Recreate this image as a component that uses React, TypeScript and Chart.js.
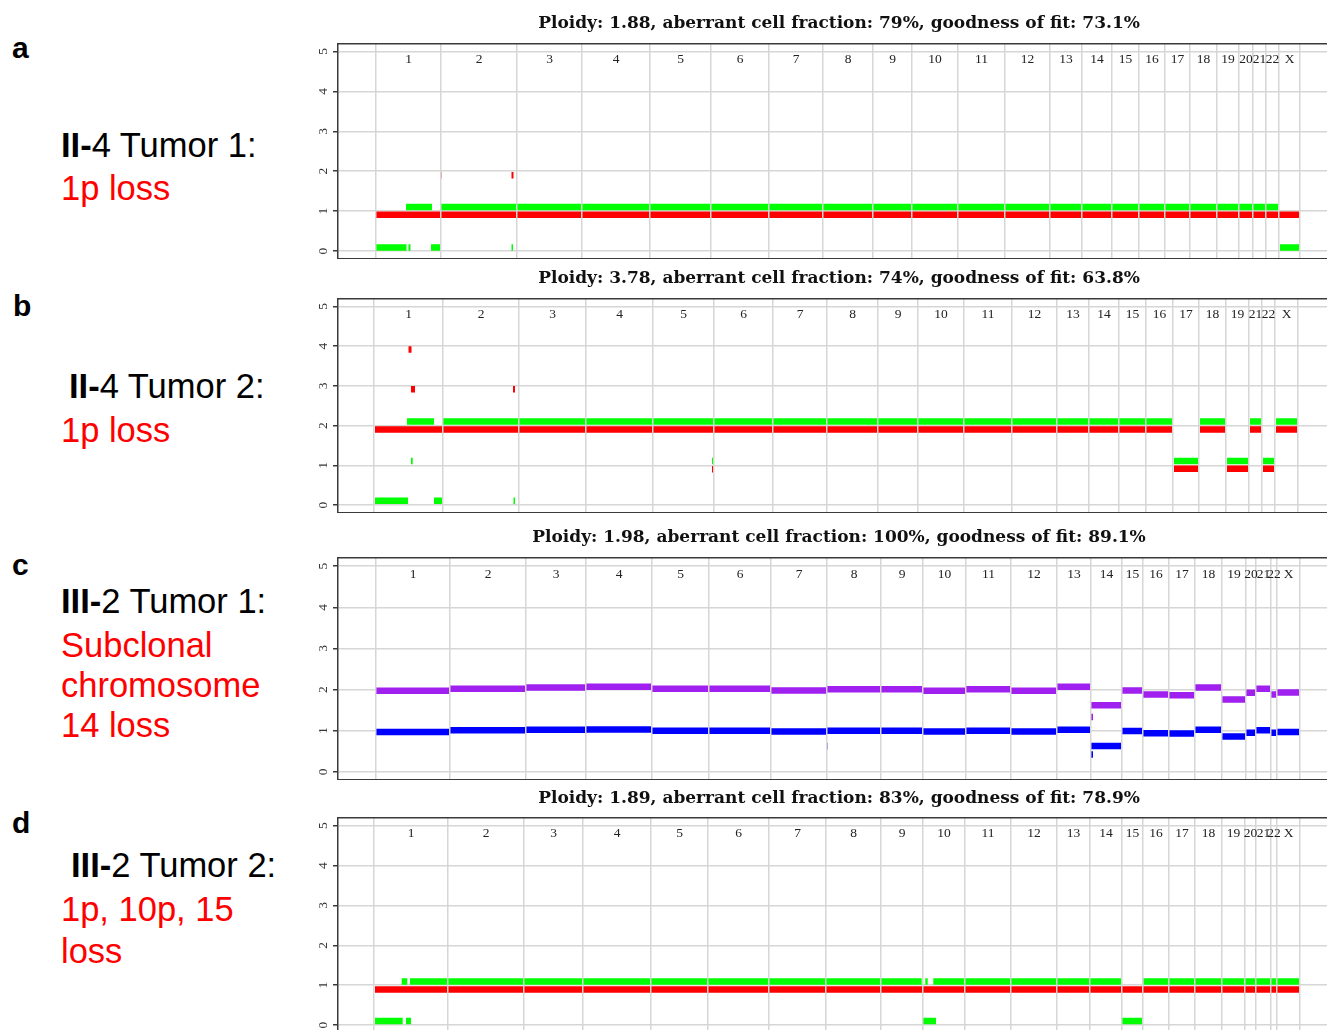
import React, { useEffect, useRef } from "react";
import { Chart, registerables } from "chart.js";

Chart.register(...registerables);

// ---------- shared ----------
const yTicks = [0, 1, 2, 3, 4, 5];
const chromsAll = ["1", "2", "3", "4", "5", "6", "7", "8", "9", "10", "11", "12", "13", "14", "15", "16", "17", "18", "19", "20", "21", "22", "X"];
const chromsNo20 = ["1", "2", "3", "4", "5", "6", "7", "8", "9", "10", "11", "12", "13", "14", "15", "16", "17", "18", "19", "21", "22", "X"];

// ---------- panel a: II-4 Tumor 1 ----------
const aTitle = "Ploidy: 1.88, aberrant cell fraction: 79%, goodness of fit: 73.1%";
const aBounds = [2, 67, 143, 208, 276, 337, 395, 449, 499, 538, 584, 631, 676, 708, 738, 765, 791, 816, 843, 865, 879, 892, 905, 926];
const aRed = [[2, 926, 0.91], [66, 67.5, 1.9], [137.5, 139.5, 1.9]];
const aGreen = [[32, 58, 1.1], [67, 905, 1.1], [2, 32.5, 0.09], [34.5, 36.5, 0.09], [57, 66, 0.09], [137.5, 139, 0.09], [906, 926, 0.09]];

// ---------- panel b: II-4 Tumor 2 ----------
const bTitle = "Ploidy: 3.78, aberrant cell fraction: 74%, goodness of fit: 63.8%";
const bBounds = [0, 69, 145, 212, 279, 340, 399, 453, 504, 544, 590, 638, 683, 715, 745, 772, 799, 825, 852, 875, 888, 901, 924];
const bRed = [[1, 799, 1.9], [826, 852, 1.9], [876, 888, 1.9], [902, 923, 1.9], [800, 825, 0.91], [853, 874, 0.91], [889, 901, 0.91], [34.5, 37.5, 3.91], [37, 41, 2.91], [139, 141, 2.91], [338, 340, 0.9]];
const bGreen = [[33, 60, 2.1], [69, 799, 2.1], [826, 852, 2.1], [876, 888, 2.1], [902, 923, 2.1], [800, 825, 1.11], [853, 874, 1.11], [889, 901, 1.11], [37, 38.7, 1.11], [338, 340, 1.11], [1, 34, 0.11], [60, 68, 0.11], [139.5, 141, 0.11]];

// ---------- panel c: III-2 Tumor 1 ----------
const cTitle = "Ploidy: 1.98, aberrant cell fraction: 100%, goodness of fit: 89.1%";
const cBounds = [2, 76, 152, 212, 278, 335, 397, 453, 507, 549, 592, 637, 683, 717, 748, 769, 795, 821, 848, 872, 882, 897, 903, 926];
const cPurple = [1.97, 2.02, 2.05, 2.07, 2.02, 2.02, 1.98, 2.01, 2.01, 1.97, 2.01, 1.97, 2.07, 1.62, 1.98, 1.88, 1.86, 2.05, 1.76, 1.92, 2.02, 1.88, 1.93];
const cBlue = [0.97, 1.01, 1.02, 1.03, 1.0, 1.0, 0.98, 1.0, 1.0, 0.98, 1.0, 0.98, 1.02, 0.63, 0.99, 0.94, 0.93, 1.02, 0.86, 0.95, 1.01, 0.95, 0.97];
const cPurpleExtra = [[717, 719, 1.33]];
const cBlueExtra = [[717, 719, 0.42], [452, 453.5, 0.62]];

// ---------- panel d: III-2 Tumor 2 ----------
const dTitle = "Ploidy: 1.89, aberrant cell fraction: 83%, goodness of fit: 78.9%";
const dBounds = [0, 74, 150, 209, 277, 334, 395, 452, 507, 549, 591, 637, 683, 716, 748, 769, 795, 821, 848, 871, 882, 897, 903, 926];
const dRed = [[1, 926, 0.89]];
const dGreen = [[27.7, 33.3, 1.09], [36, 547.7, 1.09], [551.3, 553.7, 1.09], [559.3, 747.7, 1.09], [769.3, 926, 1.09], [1, 28.7, 0.1], [32, 37, 0.1], [548.7, 562, 0.1], [747.7, 768.7, 0.1]];

// ---------- styling ----------
const X_MIN = -36;
const X_MAX = 966;
const LABEL_LEVEL = 4.8;
const RED = "#ff0000";
const GREEN = "#00ff00";
const PURPLE = "#a020f0";
const BLUE = "#0000ff";
const FRAME = "#3a3a3a";
const GRID = "#d6d6d6";

function perChromosome(bounds: number[], values: number[]) {
  return values.map((v, i) => [bounds[i], bounds[i + 1], v]);
}

function toLine(segs: number[][]) {
  return segs.flatMap(([s, e, v]) => [
    { x: s, y: v },
    { x: e, y: v },
    { x: e, y: null },
  ]);
}

const chromLabelPlugin = {
  id: "chromLabels",
  afterDraw(chart: any, _args: any, opts: any) {
    const { ctx } = chart;
    const xs = chart.scales.x;
    const ys = chart.scales.y;
    const { bounds, labels } = opts;
    ctx.save();
    ctx.font = '13.5px "Liberation Serif", "Times New Roman", serif';
    ctx.fillStyle = "#222";
    ctx.textAlign = "center";
    ctx.textBaseline = "middle";
    labels.forEach((lab: string, i: number) => {
      const px = xs.getPixelForValue((bounds[i] + bounds[i + 1]) / 2);
      ctx.fillText(lab, px, ys.getPixelForValue(LABEL_LEVEL));
    });
    ctx.restore();
  },
};

type Series = { segs: number[][]; color: string };

function Panel(props: {
  top: number;
  height: number;
  padBottom: number;
  title: string;
  bounds: number[];
  chroms: string[];
  series: Series[];
}) {
  const ref = useRef<HTMLCanvasElement>(null);
  useEffect(() => {
    const canvas = ref.current;
    if (!canvas) return;
    const chart = new Chart(canvas, {
      type: "line",
      data: {
        datasets: props.series.map((s) => ({
          data: toLine(s.segs) as any,
          borderColor: s.color,
          backgroundColor: s.color,
          borderWidth: 6.5,
          borderCapStyle: "butt",
          pointRadius: 0,
          pointHoverRadius: 0,
          spanGaps: false,
          fill: false,
          tension: 0,
        })),
      },
      options: {
        animation: false,
        responsive: false,
        events: [],
        layout: { padding: 0 },
        plugins: {
          legend: { display: false },
          tooltip: { enabled: false },
          title: {
            display: true,
            text: props.title,
            fullSize: false,
            color: "#111",
            font: { family: '"DejaVu Serif", serif', size: 17, weight: "bold", lineHeight: 1.2 },
            padding: { top: 2, bottom: props.padBottom },
          },
          chromLabels: { bounds: props.bounds, labels: props.chroms },
        } as any,
        scales: {
          x: {
            type: "linear",
            min: X_MIN,
            max: X_MAX,
            afterBuildTicks: (s: any) => {
              s.ticks = props.bounds.map((v) => ({ value: v }));
            },
            ticks: { display: false },
            grid: { color: GRID, lineWidth: 1.5, drawTicks: false, z: 1 } as any,
            border: { display: true, color: FRAME, width: 1.5, z: 2 } as any,
          },
          xTop: {
            type: "linear",
            position: "top",
            min: X_MIN,
            max: X_MAX,
            ticks: { display: false },
            grid: { display: false, drawTicks: false },
            border: { display: true, color: FRAME, width: 1.5, z: 2 } as any,
          },
          y: {
            type: "linear",
            min: -0.2,
            max: 5.2,
            afterBuildTicks: (s: any) => {
              s.ticks = yTicks.map((v) => ({ value: v }));
            },
            afterFit: (s: any) => {
              s.width = 40;
              s.paddingTop = 0;
              s.paddingBottom = 0;
            },
            ticks: {
              minRotation: 90,
              maxRotation: 90,
              crossAlign: "center",
              padding: 6,
              color: "#333",
              font: { family: '"Liberation Serif", serif', size: 13.5 },
              callback: (v: any) => String(v),
            },
            grid: { color: GRID, lineWidth: 1.5, tickColor: FRAME, tickLength: 5, tickWidth: 1.5 } as any,
            border: { display: true, color: FRAME, width: 1.5, z: 2 } as any,
          },
        },
      },
      plugins: [chromLabelPlugin as any],
    });
    return () => chart.destroy();
  }, []);
  return (
    <canvas
      ref={ref}
      width={1042}
      height={props.height}
      style={{ position: "absolute", left: 298, top: props.top, width: 1042, height: props.height }}
    />
  );
}

function Txt(props: { x: number; baseline: number; size: number; color?: string; bold?: boolean; children: React.ReactNode }) {
  return (
    <div
      style={{
        position: "absolute",
        left: props.x,
        top: props.baseline - 0.8465 * props.size,
        fontFamily: '"Liberation Sans", Arial, sans-serif',
        fontSize: props.size,
        lineHeight: 1,
        fontWeight: props.bold ? "bold" : "normal",
        color: props.color || "#000",
        whiteSpace: "nowrap",
      }}
    >
      {props.children}
    </div>
  );
}

const RED_TEXT = "#ff0000";
const LABEL_SIZE = 34.5;
const LETTER_SIZE = 30;

export default function App() {
  const cSeries: Series[] = [
    { segs: [...perChromosome(cBounds, cPurple), ...cPurpleExtra], color: PURPLE },
    { segs: [...perChromosome(cBounds, cBlue), ...cBlueExtra], color: BLUE },
  ];
  return (
    <div
      style={{
        position: "fixed",
        left: 0,
        top: 0,
        width: 1327,
        height: 1030,
        overflow: "hidden",
        background: "#fff",
      }}
    >
      <Txt x={12} baseline={58} size={LETTER_SIZE} bold>a</Txt>
      <Txt x={61} baseline={157} size={LABEL_SIZE}><b>II-</b>4 Tumor 1:</Txt>
      <Txt x={61} baseline={200} size={LABEL_SIZE} color={RED_TEXT}>1p loss</Txt>

      <Txt x={13} baseline={316} size={LETTER_SIZE} bold>b</Txt>
      <Txt x={69} baseline={398} size={LABEL_SIZE}><b>II-</b>4 Tumor 2:</Txt>
      <Txt x={61} baseline={442} size={LABEL_SIZE} color={RED_TEXT}>1p loss</Txt>

      <Txt x={12} baseline={575} size={LETTER_SIZE} bold>c</Txt>
      <Txt x={61} baseline={613} size={LABEL_SIZE}><b>III-</b>2 Tumor 1:</Txt>
      <Txt x={61} baseline={657} size={LABEL_SIZE} color={RED_TEXT}>Subclonal</Txt>
      <Txt x={61} baseline={697} size={LABEL_SIZE} color={RED_TEXT}>chromosome</Txt>
      <Txt x={61} baseline={737} size={LABEL_SIZE} color={RED_TEXT}>14 loss</Txt>

      <Txt x={12} baseline={833} size={LETTER_SIZE} bold>d</Txt>
      <Txt x={71} baseline={877} size={LABEL_SIZE}><b>III-</b>2 Tumor 2:</Txt>
      <Txt x={61} baseline={921} size={LABEL_SIZE} color={RED_TEXT}>1p, 10p, 15</Txt>
      <Txt x={61} baseline={963} size={LABEL_SIZE} color={RED_TEXT}>loss</Txt>

      <Panel
        top={11}
        height={248}
        padBottom={10.1}
        title={aTitle}
        bounds={aBounds}
        chroms={chromsAll}
        series={[
          { segs: aRed, color: RED },
          { segs: aGreen, color: GREEN },
        ]}
      />
      <Panel
        top={266}
        height={247}
        padBottom={9.9}
        title={bTitle}
        bounds={bBounds}
        chroms={chromsNo20}
        series={[
          { segs: bRed, color: RED },
          { segs: bGreen, color: GREEN },
        ]}
      />
      <Panel
        top={525}
        height={255}
        padBottom={10.6}
        title={cTitle}
        bounds={cBounds}
        chroms={chromsAll}
        series={cSeries}
      />
      <Panel
        top={786}
        height={247}
        padBottom={9.3}
        title={dTitle}
        bounds={dBounds}
        chroms={chromsAll}
        series={[
          { segs: dRed, color: RED },
          { segs: dGreen, color: GREEN },
        ]}
      />
    </div>
  );
}
